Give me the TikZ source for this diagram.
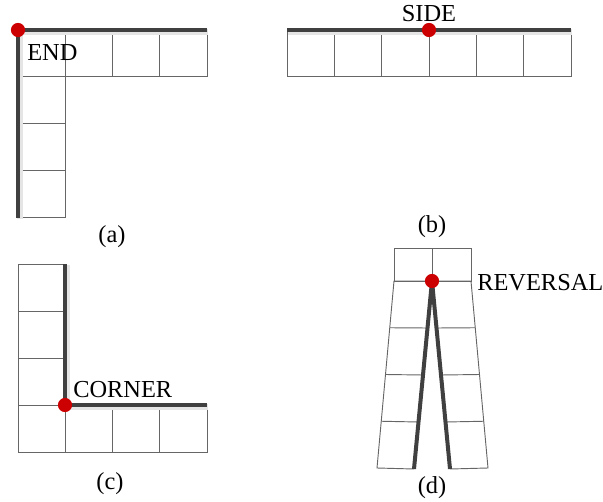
\documentclass[tikz,border=0pt]{standalone}
\usepackage{fontspec}
\setmainfont{Liberation Serif}
\usetikzlibrary{calc}

\begin{document}
\begin{tikzpicture}[x=0.75pt,y=-0.75pt,
    cell/.style={draw=black!60, line width=0.7pt},
    wall/.style={draw=black!75, line width=3pt},
    halo/.style={draw=black!10, line width=4pt},
    joint/.style={fill=red!80!black},
    tag/.style={font=\fontsize{18.3}{21}\selectfont, inner sep=0pt}]
  \useasboundingbox (0,0) rectangle (603,502);

  % (a) end
  \foreach \i in {0,1,2,3}
    \draw[cell] (18+47.25*\i,30) rectangle ++(47.25,46);
  \foreach \j in {0,1,2}
    \draw[cell] (18,76+47.3*\j) rectangle ++(47,47.3);
  \draw[halo] (208,32) -- (20,32) -- (20,219);
  \draw[wall] (207,30) -- (18,30) -- (18,218);
  \fill[joint] (18,30) circle (5.3pt);
  \node[tag, anchor=base west] (endtxt) at (27,61) {END};
  \node[tag, anchor=base] (capa) at (112,243) {(a)};

  % (b) side
  \foreach \i in {0,...,5}
    \draw[cell] (287+47.33*\i,30) rectangle ++(47.33,46);
  \draw[halo] (288,32) -- (572,32);
  \draw[wall] (287,30) -- (571,30);
  \fill[joint] (429,30) circle (5.3pt);
  \node[tag, anchor=base] (sidetxt) at (429,22) {SIDE};
  \node[tag, anchor=base] (capb) at (432,233) {(b)};

  % (c) corner
  \foreach \j in {0,1,2}
    \draw[cell] (18,264+47*\j) rectangle ++(47,47);
  \foreach \i in {0,1,2,3}
    \draw[cell] (18+47.25*\i,405) rectangle ++(47.25,47);
  \draw[halo] (67,265) -- (67,407) -- (208,407);
  \draw[wall] (65,264) -- (65,405) -- (207,405);
  \fill[joint] (65,405) circle (5.3pt);
  \node[tag, anchor=base west] (cornertxt) at (73,397) {CORNER};
  \node[tag, anchor=base] (capc) at (110,489) {(c)};

  % (d) reversal
  \coordinate (lt) at (394,281);
  \coordinate (lb) at (377,468);
  \coordinate (rt) at (471,281);
  \coordinate (rb) at (488,468);
  \coordinate (apex) at (432,281);
  \coordinate (kl) at (414,469);
  \coordinate (kr) at (450,469);
  \draw[cell] (394,248) rectangle (471,281);
  \draw[cell] (432,248) -- (apex);
  \draw[cell] (kl) -- (lb) -- (lt) -- (rt) -- (rb) -- (kr);
  \foreach \t in {0.25,0.5,0.75} {
    \draw[cell] ($(lt)!\t!(lb)$) -- ($(apex)!\t!(kl)$);
    \draw[cell] ($(apex)!\t!(kr)$) -- ($(rt)!\t!(rb)$);
  }
  \draw[wall, line join=round] (kl) -- (apex) -- (kr);
  \fill[joint] (apex) circle (5.3pt);
  \node[tag, anchor=base west] (revtxt) at (477,291) {REVERSAL};
  \node[tag, anchor=base] (capd) at (432,493) {(d)};
\end{tikzpicture}
\end{document}
